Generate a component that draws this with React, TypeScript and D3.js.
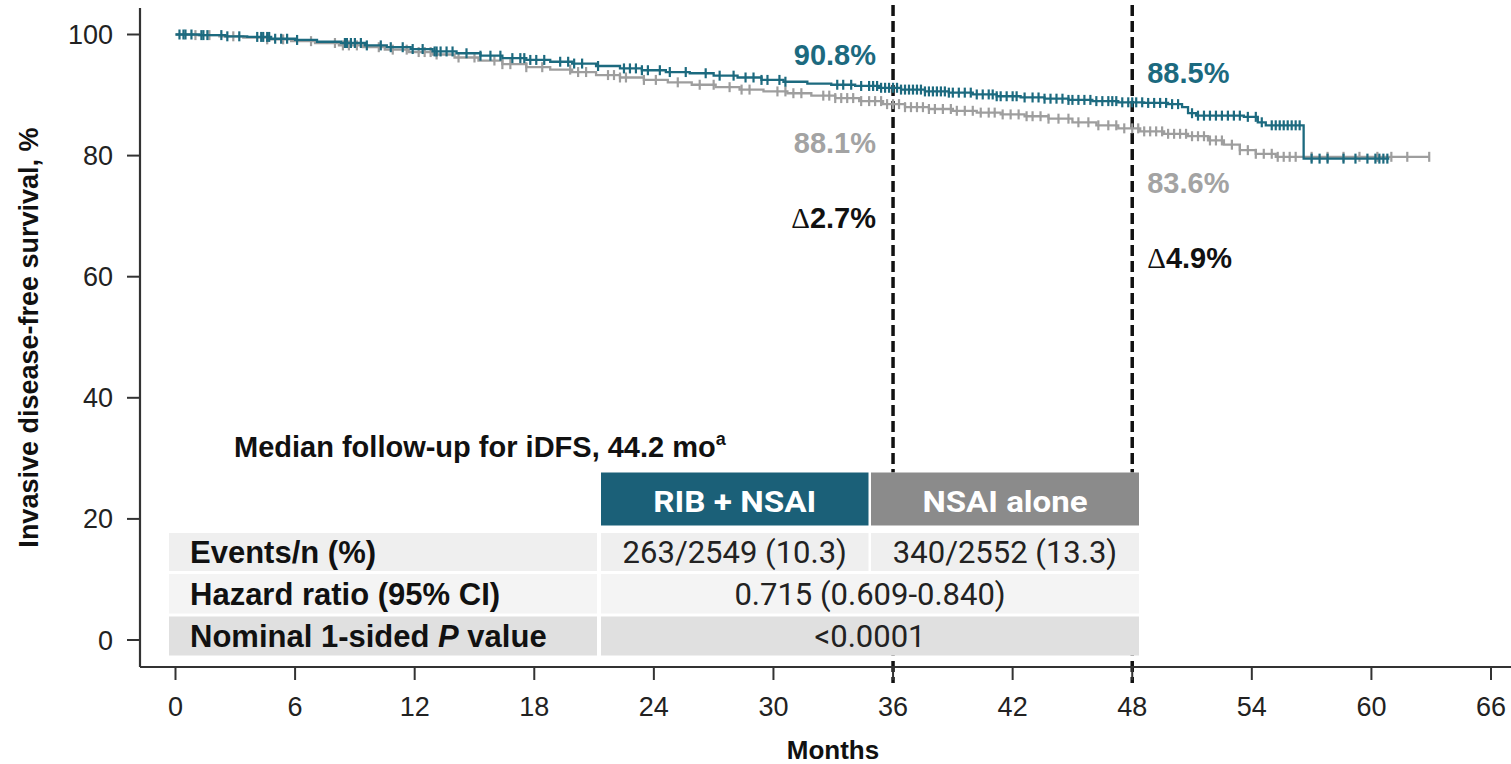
import React from "react";
import * as d3 from "d3";

// ---------- data ----------
const xTicks = [0, 6, 12, 18, 24, 30, 36, 42, 48, 54, 60, 66];
const yTicks = [0, 20, 40, 60, 80, 100];
const landmarkMonths = [36, 48];

// Kaplan-Meier step points [month, survival %]
const ribSteps: [number, number][] = [
  [0, 100], [1.2, 99.9], [2.5, 99.7], [3.6, 99.6], [4.8, 99.3], [6.0, 99.1], [7.1, 98.8],
  [8.3, 98.6], [9.5, 98.2], [10.6, 97.9], [11.8, 97.6], [12.9, 97.2], [14.1, 96.9],
  [15.3, 96.5], [16.4, 96.1], [17.6, 95.8], [18.8, 95.5], [19.9, 95.2], [21.1, 94.8],
  [22.3, 94.4], [23.4, 94.1], [24.6, 93.8], [25.8, 93.6], [27.0, 93.2], [28.2, 92.9],
  [29.4, 92.5], [30.5, 92.2], [31.7, 91.9], [32.9, 91.7], [34.1, 91.5], [35.3, 91.2],
  [36.4, 90.9], [37.6, 90.6], [38.8, 90.4], [40.0, 90.1], [41.2, 89.8], [42.4, 89.6],
  [43.6, 89.4], [44.8, 89.2], [46.0, 89.0], [47.3, 88.8], [48.6, 88.7], [49.8, 88.5],
  [50.5, 88.0], [50.8, 87.0], [51.2, 86.6], [53.6, 86.4], [54.3, 85.5], [54.7, 85.0],
  [56.6, 79.5],
];
const ribEnd = 60.9;

const nsaiSteps: [number, number][] = [
  [0, 100], [1.0, 99.9], [2.2, 99.7], [3.4, 99.5], [4.6, 99.2], [5.8, 98.9], [7.0, 98.6],
  [8.2, 98.2], [9.4, 97.9], [10.5, 97.5], [11.7, 97.1], [12.9, 96.7], [14.0, 96.2],
  [15.2, 95.7], [16.4, 95.1], [17.6, 94.6], [18.8, 94.2], [19.9, 93.8], [21.1, 93.3],
  [22.3, 92.9], [23.5, 92.5], [24.7, 92.1], [25.9, 91.7], [27.1, 91.3], [28.3, 90.9],
  [29.5, 90.6], [30.7, 90.3], [31.9, 89.9], [33.1, 89.5], [34.3, 89.0], [35.5, 88.5],
  [36.6, 88.0], [37.8, 87.7], [39.0, 87.4], [40.2, 87.1], [41.4, 86.8], [42.6, 86.5],
  [43.8, 86.1], [45.0, 85.5], [46.2, 85.0], [47.3, 84.5], [48.4, 84.0], [49.6, 83.6],
  [50.8, 83.2], [51.8, 82.5], [52.6, 81.8], [53.4, 80.9], [54.2, 80.3], [55.2, 79.8],
];
const nsaiEnd = 62.9;

// censoring marks (months)
const ribCensor = [
  0.2, 0.4, 0.5, 0.8, 1.3, 1.4, 1.6, 2.3, 2.6, 3.2, 4.1, 4.3, 4.4, 4.6, 4.7, 5.0, 5.3, 5.6, 6.1,
  8.5, 8.6, 8.8, 9.0, 9.3, 9.6, 10.3, 10.8, 11.4, 11.9, 12.4, 13.0, 13.1, 13.3, 13.6, 13.9, 14.6,
  15.3, 15.8, 16.3, 16.9, 17.3, 17.5, 17.8, 18.1, 18.5, 19.3, 19.7, 20.0, 20.4, 21.2,
  22.5, 22.8, 23.1, 23.4, 23.7, 24.3, 24.8, 25.6, 26.6, 27.3, 28.0, 28.6, 29.0, 29.4,
  29.7, 30.3, 30.6,
  33.2, 33.5, 33.9, 34.4, 34.8, 35.0, 35.2, 35.4, 35.6, 35.8, 36.0, 36.2, 36.4, 36.6,
  36.8, 37.0, 37.2, 37.4, 37.6, 37.8, 38.0, 38.2, 38.4, 38.6, 38.8, 39.0, 39.3, 39.6,
  39.9, 40.2, 40.5, 40.8, 41.0, 41.2, 41.4, 41.7, 42.0, 42.2, 42.6, 43.0, 43.3, 43.6,
  43.9, 44.2, 44.5, 44.8, 45.0, 45.3, 45.6, 45.9, 46.2, 46.5, 46.8, 47.0, 47.2, 47.5,
  47.8, 48.0, 48.2, 48.5, 48.8, 49.1, 49.4, 49.7, 50.0, 50.3,
  51.0, 51.3, 51.6, 51.9, 52.2, 52.5, 52.8, 53.1, 53.4, 53.8, 54.2, 54.5, 55.0, 55.2,
  55.4, 55.6, 55.8, 56.0, 56.2, 56.4,
  57.0, 57.4, 57.8, 58.6, 59.2, 59.8, 60.2, 60.4, 60.6, 60.8,
];
const nsaiCensor = [
  1.0, 1.7, 2.9, 4.6, 5.4, 6.8, 8.0, 8.4, 8.7, 9.1, 10.2, 10.9, 11.6, 12.2, 12.5, 12.8,
  13.1, 14.2, 15.0, 16.0, 16.4, 16.8, 17.6, 18.4, 19.8, 20.2, 20.6, 21.7, 22.0, 22.3,
  22.6, 23.5, 24.1, 25.2, 26.3, 27.0, 27.8, 28.4, 28.8,
  30.2, 30.6, 31.0, 31.4, 32.5, 32.8, 33.1, 33.4, 33.7, 34.0, 34.4, 34.8, 35.1, 35.4,
  35.7, 36.0, 36.3, 36.6, 36.9, 37.2, 37.5, 37.8, 38.1, 38.5, 38.9, 39.2, 39.6, 40.0,
  40.4, 40.8, 41.1, 41.5, 41.9, 42.3, 42.7, 43.0, 43.4, 43.8, 44.3, 44.8, 45.3, 45.8,
  46.3, 46.8, 47.2, 47.6, 48.0, 48.3, 48.6, 48.9, 49.2, 49.5, 49.8, 50.1, 50.4, 50.7,
  51.0, 51.3, 51.6, 51.9, 52.2, 52.5, 53.0, 53.4, 53.8, 54.2, 54.6, 55.0, 55.3, 55.6,
  55.9, 56.2,
  57.0, 57.8, 58.6, 59.4, 60.3, 61.0, 61.8, 62.9,
];

const ribLandmarkLabels = ["90.8%", "88.5%"];
const nsaiLandmarkLabels = ["88.1%", "83.6%"];
const deltaLabels = ["2.7%", "4.9%"];

const groups = ["RIB + NSAI", "NSAI alone"];
const rowLabels = ["Events/n (%)", "Hazard ratio (95% CI)", "Nominal 1-sided "];
const eventsValues = ["263/2549 (10.3)", "340/2552 (13.3)"];
const hazardValue = "0.715 (0.609-0.840)";
const pValue = "<0.0001";
const followUpText = "Median follow-up for iDFS, 44.2 mo";

// ---------- style ----------
const W = 1511;
const H = 764;
const TEAL = "#1c6a7f";
const TEAL_HEAD = "#1b6078";
const GRAY = "#9e9e9e";
const GRAY_HEAD = "#8b8b8b";
const GRAY_TXT = "#a3a3a3";
const ARIAL = "'Liberation Sans', Arial, Helvetica, sans-serif";
const ROBOTO = "Roboto, 'Liberation Sans', Arial, sans-serif";

const x = d3.scaleLinear().domain([0, 66]).range([175.5, 1491]);
const y = d3.scaleLinear().domain([0, 100]).range([640, 34.5]);

function survAt(steps: [number, number][], t: number) {
  let s = steps[0][1];
  for (const [tt, ss] of steps) if (tt <= t) s = ss;
  return s;
}

const stepLine = d3
  .line<[number, number]>()
  .x((d) => x(d[0]))
  .y((d) => y(d[1]))
  .curve(d3.curveStepAfter);

function Curve({ steps, end, censor, color }: { steps: [number, number][]; end: number; censor: number[]; color: string }) {
  const pts: [number, number][] = [...steps, [end, steps[steps.length - 1][1]]];
  return (
    <g>
      <path d={stepLine(pts) || ""} fill="none" stroke={color} strokeWidth={2.3} />
      {censor.map((t, i) => {
        const cy = y(survAt(steps, t));
        return <line key={i} x1={x(t)} x2={x(t)} y1={cy - 5} y2={cy + 5} stroke={color} strokeWidth={2.2} />;
      })}
    </g>
  );
}

export default function App() {
  const axisY = 667;
  const axisX = 140;
  const tLeft = 169, tLabelRight = 597, tValLeft = 601, tSplitL = 868.5, tSplitR = 871, tRight = 1139;
  const headTop = 472.5, headBot = 525.5;
  const rows = [
    { top: 533, bot: 571, fill: "#efefef", base: 562.5 },
    { top: 574, bot: 613.5, fill: "#f4f4f4", base: 604.5 },
    { top: 616.5, bot: 655.5, fill: "#e0e0e0", base: 647 },
  ];
  const valMid = (tValLeft + tRight) / 2;
  const leftMid = (tValLeft + tSplitL) / 2;
  const rightMid = (tSplitR + tRight) / 2;

  return (
    <svg width={W} height={H} style={{ position: "absolute", left: 0, top: 0, background: "#fff" }}>
      {/* landmark dashed lines (behind table) */}
      {landmarkMonths.map((m) => (
        <line key={m} x1={x(m)} x2={x(m)} y1={5} y2={683} stroke="#111" strokeWidth={3.5} strokeDasharray="11,5" />
      ))}

      {/* curves */}
      <Curve steps={nsaiSteps} end={nsaiEnd} censor={nsaiCensor} color={GRAY} />
      <Curve steps={ribSteps} end={ribEnd} censor={ribCensor} color={TEAL} />

      {/* follow-up text */}
      <text x={234} y={457} fontFamily={ARIAL} fontWeight="bold" fontSize={29} fill="#111">
        {followUpText}
        <tspan fontSize={18} dy={-12}>a</tspan>
      </text>

      {/* table backing */}
      <rect x={tLeft} y={headTop} width={tRight - tLeft} height={rows[2].bot - headTop} fill="#fff" />

      {/* table header */}
      <rect x={tValLeft} y={headTop} width={tSplitL - tValLeft} height={headBot - headTop} fill={TEAL_HEAD} />
      <rect x={tSplitR} y={headTop} width={tRight - tSplitR} height={headBot - headTop} fill={GRAY_HEAD} />
      <text x={leftMid} y={511.5} textAnchor="middle" fontFamily={ROBOTO} fontWeight="bold" fontSize={30} fill="#fff" textLength={163} lengthAdjust="spacingAndGlyphs">{groups[0]}</text>
      <text x={rightMid} y={511.5} textAnchor="middle" fontFamily={ROBOTO} fontWeight="bold" fontSize={30} fill="#fff" textLength={165} lengthAdjust="spacingAndGlyphs">{groups[1]}</text>

      {/* table rows */}
      {rows.map((r, i) => (
        <g key={i}>
          <rect x={tLeft} y={r.top} width={tLabelRight - tLeft} height={r.bot - r.top} fill={r.fill} />
          {i === 0 ? (
            <>
              <rect x={tValLeft} y={r.top} width={tSplitL - tValLeft} height={r.bot - r.top} fill={r.fill} />
              <rect x={tSplitR} y={r.top} width={tRight - tSplitR} height={r.bot - r.top} fill={r.fill} />
            </>
          ) : (
            <rect x={tValLeft} y={r.top} width={tRight - tValLeft} height={r.bot - r.top} fill={r.fill} />
          )}
          <text x={190} y={r.base} fontFamily={ARIAL} fontWeight="bold" fontSize={31} fill="#111">
            {rowLabels[i]}
            {i === 2 && (
              <>
                <tspan fontStyle="italic">P</tspan>
                <tspan> value</tspan>
              </>
            )}
          </text>
        </g>
      ))}
      <text x={leftMid} y={rows[0].base} textAnchor="middle" fontFamily={ROBOTO} fontSize={31} fill="#222">{eventsValues[0]}</text>
      <text x={rightMid} y={rows[0].base} textAnchor="middle" fontFamily={ROBOTO} fontSize={31} fill="#222">{eventsValues[1]}</text>
      <text x={valMid} y={rows[1].base} textAnchor="middle" fontFamily={ROBOTO} fontSize={31} fill="#222">{hazardValue}</text>
      <text x={valMid} y={rows[2].base} textAnchor="middle" fontFamily={ROBOTO} fontSize={31} fill="#222">{pValue}</text>

      {/* landmark labels */}
      {landmarkMonths.map((m, i) => {
        const left = i === 0;
        const tx = left ? x(m) - 17 : x(m) + 15;
        const anchor = left ? "end" : "start";
        const bases = left ? [65, 153, 228] : [83, 193, 268];
        return (
          <g key={m} fontFamily={ARIAL} fontSize={29} fontWeight="bold" textAnchor={anchor}>
            <text x={tx} y={bases[0]} fill={TEAL}>{ribLandmarkLabels[i]}</text>
            <text x={tx} y={bases[1]} fill={GRAY_TXT}>{nsaiLandmarkLabels[i]}</text>
            <text x={tx} y={bases[2]} fill="#111">
              <tspan fontFamily="'Liberation Serif', 'DejaVu Serif', serif" fontWeight="normal">Δ</tspan>
              {deltaLabels[i]}
            </text>
          </g>
        );
      })}

      {/* axes */}
      <line x1={axisX} x2={axisX} y1={8} y2={axisY} stroke="#333" strokeWidth={2.2} />
      <line x1={axisX} x2={W} y1={axisY} y2={axisY} stroke="#333" strokeWidth={2.2} />
      {yTicks.map((v) => (
        <g key={v}>
          <line x1={127} x2={axisX} y1={y(v)} y2={y(v)} stroke="#333" strokeWidth={2} />
          <text x={113} y={y(v) + 9.5} textAnchor="end" fontFamily={ARIAL} fontSize={27} fill="#222">{v}</text>
        </g>
      ))}
      {xTicks.map((v) => (
        <g key={v}>
          <line x1={x(v)} x2={x(v)} y1={axisY} y2={680} stroke="#333" strokeWidth={2} />
          <text x={x(v)} y={716} textAnchor="middle" fontFamily={ARIAL} fontSize={27} fill="#222">{v}</text>
        </g>
      ))}
      <text x={833} y={759} textAnchor="middle" fontFamily={ARIAL} fontWeight="bold" fontSize={26} fill="#111">Months</text>
      <text transform={`translate(38, ${337.5}) rotate(-90)`} textAnchor="middle" fontFamily={ARIAL} fontWeight="bold" fontSize={27} fill="#111">
        Invasive disease-free survival, %
      </text>
    </svg>
  );
}
